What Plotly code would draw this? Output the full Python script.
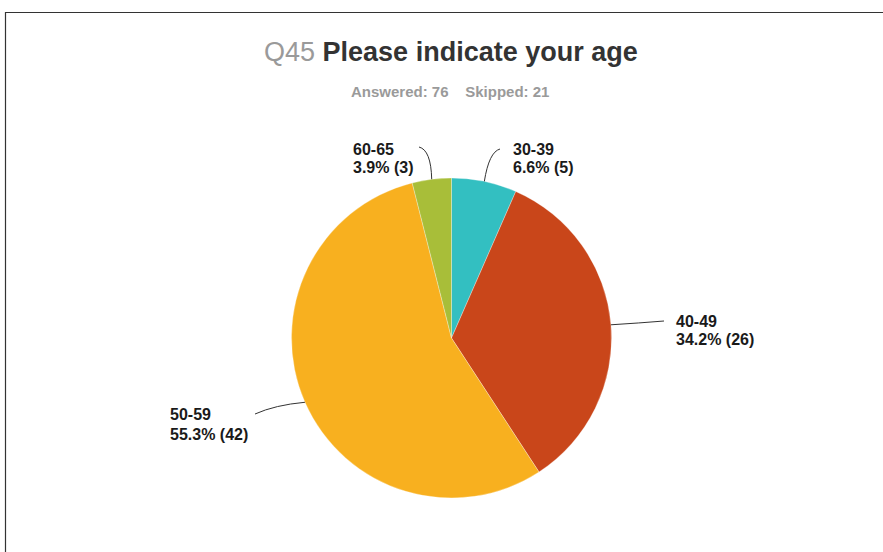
import math
import plotly.graph_objects as go

# ---- data ----
categories = ["30-39", "40-49", "50-59", "60-65"]
counts = [5, 26, 42, 3]
percent_labels = ["6.6%", "34.2%", "55.3%", "3.9%"]
colors = ["#33BFC1", "#C9461A", "#F8B01F", "#A8BE39"]
title_num = "Q45"
title_text = "Please indicate your age"
answered = 76
skipped = 21

W, H = 883, 552
# pie geometry (pixels)
CX, CY, R = 451.5, 338.0, 160.0

def px(x):
    return x / W

def py(y):
    return 1 - y / H

fig = go.Figure(go.Pie(
    labels=categories,
    values=counts,
    sort=False,
    direction="clockwise",
    rotation=0,
    marker=dict(colors=colors, line=dict(color="rgba(255,255,255,0.6)", width=0.5)),
    textinfo="none",
    hoverinfo="label+percent+value",
    showlegend=False,
    domain=dict(x=[px(CX - R), px(CX + R)], y=[py(CY + R), py(CY - R)]),
))

# label placements (text left x, line centre y's, leader control & end pixels)
label_layout = {
    "30-39": dict(tx=511, y1=149, y2=167, ctrl=(489, 152), end=(500, 149)),
    "40-49": dict(tx=674, y1=321.5, y2=339, ctrl=(640, 323), end=(664, 321)),
    "50-59": dict(tx=168, y1=414.5, y2=434, ctrl=(275, 405), end=(255, 414)),
    "60-65": dict(tx=351, y1=149, y2=167, ctrl=(431, 150), end=(419, 147)),
}

LABEL_FONT = dict(family="Liberation Sans, Arial, sans-serif", size=16, color="#1a1a1a")

total = sum(counts)
cum = 0
shapes = []
annotations = []
for cat, c, pct in zip(categories, counts, percent_labels):
    mid = (cum + c / 2) / total * 2 * math.pi
    cum += c
    ex = CX + R * math.sin(mid)
    ey = CY - R * math.cos(mid)
    L = label_layout[cat]
    cx_, cy_ = L["ctrl"]
    qx, qy = L["end"]
    path = f"M {px(ex)},{py(ey)} Q {px(cx_)},{py(cy_)} {px(qx)},{py(qy)}"
    shapes.append(dict(type="path", xref="paper", yref="paper", path=path,
                       line=dict(color="#333333", width=1)))
    for txt, yy in ((cat, L["y1"]), (f"{pct} ({c})", L["y2"])):
        annotations.append(dict(
            x=px(L["tx"]), y=py(yy), xref="paper", yref="paper",
            xanchor="left", yanchor="middle", align="left", showarrow=False,
            text=f"<b>{txt}</b>", font=LABEL_FONT,
        ))

# title and subtitle
annotations.append(dict(
    x=px(451), y=py(52), xref="paper", yref="paper", xanchor="center", yanchor="middle",
    showarrow=False,
    text=f"<span style='color:#9a9a9a'>{title_num}</span> <b>{title_text}</b>",
    font=dict(family="Liberation Sans, Arial, sans-serif", size=27, color="#333333"),
))
annotations.append(dict(
    x=px(450), y=py(92), xref="paper", yref="paper", xanchor="center", yanchor="middle",
    showarrow=False,
    text=f"<b>Answered: {answered}&nbsp;&nbsp;&nbsp;&nbsp;Skipped: {skipped}</b>",
    font=dict(family="Liberation Sans, Arial, sans-serif", size=15, color="#9a9a9a"),
))

# outer frame (left and top edges visible)
shapes.append(dict(type="rect", xref="paper", yref="paper",
                   x0=px(5.5), x1=1.2, y0=-0.2, y1=py(12.5),
                   line=dict(color="#333333", width=1.2), fillcolor="rgba(0,0,0,0)"))

fig.update_layout(
    width=W, height=H,
    margin=dict(l=0, r=0, t=0, b=0),
    paper_bgcolor="white", plot_bgcolor="white",
    shapes=shapes, annotations=annotations,
)

fig.write_html("out.html", config={"displayModeBar": False},
               post_script="document.body.style.margin='0';")
